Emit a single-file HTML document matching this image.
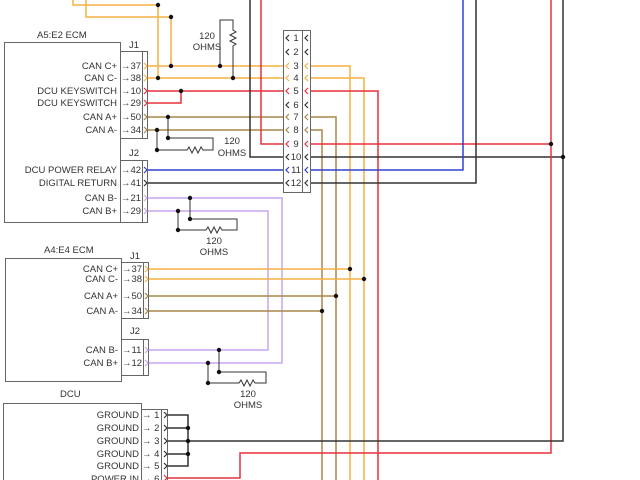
<!DOCTYPE html>
<html><head><meta charset="utf-8"><style>
html,body{margin:0;padding:0;background:#fff;width:640px;height:480px;overflow:hidden}
svg text{font-family:"Liberation Sans",Arial,sans-serif;font-size:9.5px;fill:#333}
</style></head><body>
<svg width="640" height="480" viewBox="0 0 640 480" xmlns="http://www.w3.org/2000/svg">
<g fill="none" stroke-width="1.5">
<path d="M73 0V5H158V78" stroke="#f6b044"/>
<path d="M86 0V17H171V66" stroke="#f6b044"/>
<path d="M147 66H283" stroke="#f6b044"/>
<path d="M147 78H283" stroke="#f6b044"/>
<path d="M147 91H283" stroke="#e8303d"/>
<path d="M147 103H181V91" stroke="#e8303d"/>
<path d="M147 117H283" stroke="#a98648"/>
<path d="M147 130H283" stroke="#a98648"/>
<path d="M147 170H283" stroke="#3040d0"/>
<path d="M147 183H283" stroke="#333"/>
<path d="M147 198H282V363H148" stroke="#c9a6f0"/>
<path d="M147 211H268V350H148" stroke="#c9a6f0"/>
<path d="M250 0V157H283" stroke="#333"/>
<path d="M261 0V144H283" stroke="#e8303d"/>
<path d="M310 66H350V480" stroke="#f6b044"/>
<path d="M310 78H364V480" stroke="#f6b044"/>
<path d="M310 91H378V480" stroke="#e8303d"/>
<path d="M310 117H336V480" stroke="#a98648"/>
<path d="M310 130H322V480" stroke="#a98648"/>
<path d="M310 144H551" stroke="#e8303d"/>
<path d="M310 157H563" stroke="#333"/>
<path d="M310 170H463V0" stroke="#3040d0"/>
<path d="M310 183H476V0" stroke="#333"/>
<path d="M551 0V453H240V478H167" stroke="#e8303d"/>
<path d="M563 0V441H167" stroke="#333"/>
<path d="M148 269H350" stroke="#f6b044"/>
<path d="M148 279H364" stroke="#f6b044"/>
<path d="M148 296H336" stroke="#a98648"/>
<path d="M148 311H322" stroke="#a98648"/>
<path d="M167 415H188V466H167M167 428H188M167 454H188" stroke="#333"/>
</g>
<g fill="none" stroke="#333" stroke-width="1">
<path d="M220 66V20H233V30l3 2-6 3 6 3-6 3 6 3-3 2V78"/>
<path d="M168 117V138H213V150H203l-2-3-3 6-3-6-3 6-3-6-2 3H157V130"/>
<path d="M190 198V219H237V230H222l-2-3-3 6-3-6-3 6-3-6-2 3H178V211"/>
<path d="M219 350V372H266V383H255l-2-3-3 6-3-6-3 6-3-6-2 3H208V363"/>
</g>
<g fill="#111">
<circle cx="158" cy="5" r="2.2"/><circle cx="171" cy="17" r="2.2"/>
<circle cx="171" cy="66" r="2.2"/><circle cx="158" cy="78" r="2.2"/>
<circle cx="220" cy="66" r="2.2"/><circle cx="233" cy="78" r="2.2"/>
<circle cx="181" cy="91" r="2.2"/><circle cx="168" cy="117" r="2.2"/><circle cx="157" cy="130" r="2.2"/>
<circle cx="168" cy="138" r="2.2"/><circle cx="157" cy="150" r="2.2"/>
<circle cx="190" cy="198" r="2.2"/><circle cx="178" cy="211" r="2.2"/><circle cx="190" cy="219" r="2.2"/><circle cx="178" cy="230" r="2.2"/>
<circle cx="551" cy="144" r="2.2"/><circle cx="563" cy="157" r="2.2"/>
<circle cx="350" cy="269" r="2.2"/><circle cx="364" cy="279" r="2.2"/><circle cx="336" cy="296" r="2.2"/><circle cx="322" cy="311" r="2.2"/>
<circle cx="219" cy="350" r="2.2"/><circle cx="208" cy="363" r="2.2"/><circle cx="219" cy="372" r="2.2"/><circle cx="208" cy="383" r="2.2"/>
<circle cx="188" cy="428" r="2.2"/><circle cx="188" cy="441" r="2.2"/><circle cx="188" cy="454" r="2.2"/>
</g>
<g fill="#fff" stroke="#666" stroke-width="1">
<rect x="4.5" y="42.5" width="116" height="180"/>
<rect x="120.5" y="51.5" width="27" height="87"/><line x1="142.5" y1="51" x2="142.5" y2="139"/>
<rect x="120.5" y="160.5" width="27" height="62"/><line x1="142.5" y1="160" x2="142.5" y2="223"/>
<rect x="283.5" y="30.5" width="27" height="162"/><line x1="302.5" y1="30" x2="302.5" y2="193"/>
<rect x="5.5" y="258.5" width="116" height="123"/>
<rect x="121.5" y="262.5" width="27" height="56"/><line x1="143.5" y1="262" x2="143.5" y2="319"/>
<rect x="121.5" y="339.5" width="27" height="36"/><line x1="143.5" y1="339" x2="143.5" y2="376"/>
<rect x="3.5" y="403.5" width="138" height="80"/>
<rect x="141.5" y="409.5" width="26" height="75"/><line x1="161.5" y1="409" x2="161.5" y2="485"/>
</g>
<g fill="none" stroke-width="1.2">
<g stroke="#f6b044"><path d="M144 63l3 3-3 3M144 75l3 3-3 3M145 266l3 3-3 3M145 276l3 3-3 3"/></g>
<g stroke="#e8303d"><path d="M144 88l3 3-3 3M144 100l3 3-3 3M164 475l3 3-3 3"/></g>
<g stroke="#a98648"><path d="M144 114l3 3-3 3M144 127l3 3-3 3M145 293l3 3-3 3M145 308l3 3-3 3"/></g>
<g stroke="#3040d0"><path d="M144 167l3 3-3 3"/></g>
<g stroke="#333"><path d="M144 180l3 3-3 3M164 412l3 3-3 3M164 425l3 3-3 3M164 438l3 3-3 3M164 451l3 3-3 3M164 463l3 3-3 3"/></g>
<g stroke="#c9a6f0"><path d="M144 195l3 3-3 3M144 208l3 3-3 3M145 347l3 3-3 3M145 360l3 3-3 3"/></g>
<g stroke="#333"><path d="M289 35l-3 3 3 3M289 49l-3 3 3 3M289 102l-3 3 3 3M289 154l-3 3 3 3M289 180l-3 3 3 3M308 35l-3 3 3 3M308 49l-3 3 3 3M308 102l-3 3 3 3M308 154l-3 3 3 3M308 180l-3 3 3 3"/></g>
<g stroke="#f6b044"><path d="M289 63l-3 3 3 3M289 75l-3 3 3 3M308 63l-3 3 3 3M308 75l-3 3 3 3"/></g>
<g stroke="#e8303d"><path d="M289 88l-3 3 3 3M289 141l-3 3 3 3M308 88l-3 3 3 3M308 141l-3 3 3 3"/></g>
<g stroke="#a98648"><path d="M289 114l-3 3 3 3M289 127l-3 3 3 3M308 114l-3 3 3 3M308 127l-3 3 3 3"/></g>
<g stroke="#3040d0"><path d="M289 167l-3 3 3 3M308 167l-3 3 3 3"/></g>
</g>
<text x="37" y="38">A5:E2 ECM</text>
<text x="129" y="48">J1</text>
<text x="129" y="156">J2</text>
<g text-anchor="end">
<text x="117" y="69">CAN C+</text><text x="117" y="81">CAN C-</text>
<text x="117" y="94">DCU KEYSWITCH</text><text x="117" y="106">DCU KEYSWITCH</text>
<text x="117" y="120">CAN A+</text><text x="117" y="133">CAN A-</text>
<text x="117" y="173">DCU POWER RELAY</text><text x="117" y="186">DIGITAL RETURN</text>
<text x="117" y="201">CAN B-</text><text x="117" y="214">CAN B+</text>
<text x="118" y="272">CAN C+</text><text x="118" y="282">CAN C-</text>
<text x="118" y="299">CAN A+</text><text x="118" y="314">CAN A-</text>
<text x="118" y="353">CAN B-</text><text x="118" y="366">CAN B+</text>
<text x="139" y="418">GROUND</text><text x="139" y="431">GROUND</text>
<text x="139" y="444">GROUND</text><text x="139" y="457">GROUND</text>
<text x="139" y="469">GROUND</text><text x="139" y="482">POWER IN</text>
</g>
<g>
<text x="121" y="69">→37</text><text x="121" y="81">→38</text><text x="121" y="94">→10</text><text x="121" y="106">→29</text>
<text x="121" y="120">→50</text><text x="121" y="133">→34</text><text x="121" y="173">→42</text><text x="121" y="186">→41</text>
<text x="121" y="201">→21</text><text x="121" y="214">→29</text>
<text x="122" y="272">→37</text><text x="122" y="282">→38</text><text x="122" y="299">→50</text><text x="122" y="314">→34</text>
<text x="122" y="353">→11</text><text x="122" y="366">→12</text>
<text x="142" y="418">→ 1</text><text x="142" y="431">→ 2</text><text x="142" y="444">→ 3</text>
<text x="142" y="457">→ 4</text><text x="142" y="469">→ 5</text><text x="142" y="482">→ 6</text>
</g>
<text x="44" y="253">A4:E4 ECM</text>
<text x="130" y="259">J1</text>
<text x="130" y="334">J2</text>
<text x="60" y="397">DCU</text>
<g text-anchor="middle">
<text x="207" y="39">120</text><text x="207" y="50">OHMS</text>
<text x="232" y="144">120</text><text x="232" y="156">OHMS</text>
<text x="214" y="244">120</text><text x="214" y="255">OHMS</text>
<text x="248" y="397">120</text><text x="248" y="408">OHMS</text>
<text x="296" y="41">1</text><text x="296" y="55">2</text><text x="296" y="69">3</text><text x="296" y="81">4</text>
<text x="296" y="94">5</text><text x="296" y="108">6</text><text x="296" y="120">7</text><text x="296" y="133">8</text>
<text x="296" y="147">9</text><text x="296" y="160">10</text><text x="296" y="173">11</text><text x="296" y="186">12</text>
</g>
</svg>
</body></html>
